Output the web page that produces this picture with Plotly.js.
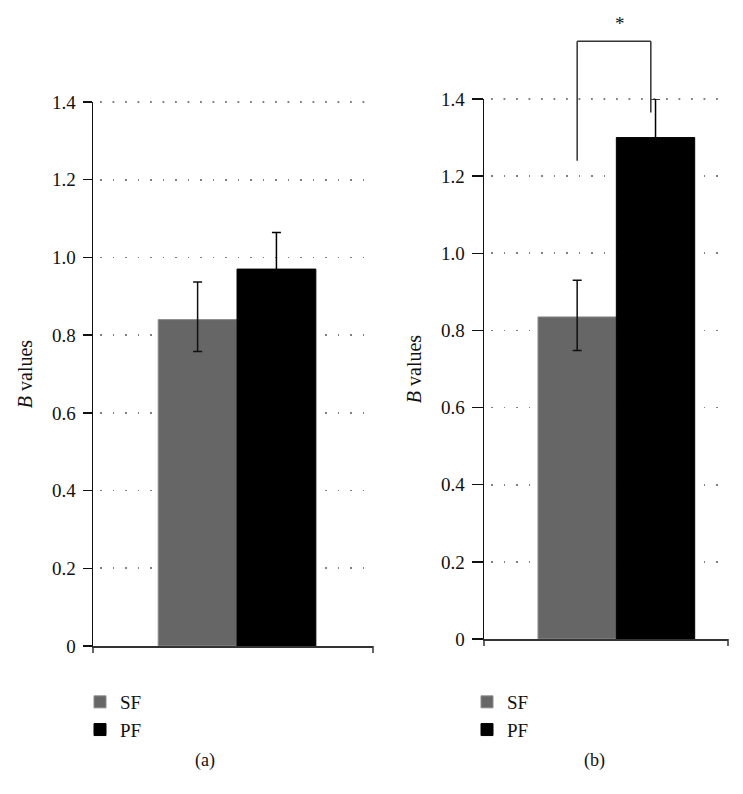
<!DOCTYPE html>
<html>
<head>
<meta charset="utf-8">
<script src="https://cdn.plot.ly/plotly-3.0.1.min.js"></script>
<style>html,body{margin:0;padding:0;background:#fff}#chart{width:743px;height:794px}</style>
</head>
<body>
<div id="chart"></div>
<script>
// ---- data ----
const categories = ['SF', 'PF'];
const valuesA = [0.84, 0.97];
const errPlusA = [0.097, 0.094];
const errMinusA = [0.082, 0.094];
const valuesB = [0.835, 1.30];
const errPlusB = [0.095, 0.10];
const errMinusB = [0.087, 0.10];
const tickVals = [0, 0.2, 0.4, 0.6, 0.8, 1.0, 1.2, 1.4];
const tickText = ['0', '0.2', '0.4', '0.6', '0.8', '1.0', '1.2', '1.4'];
const panelLabels = ['(a)', '(b)'];
const sigLabel = '*';
// significance bracket (panel b): x in category index units, y in B units
const bracketX = [0, 0, 0.94, 0.94];
const bracketY = [1.24, 1.55, 1.55, 1.365];

// ---- style ----
const W = 743, H = 794;
const FONT = 'Liberation Serif, Times New Roman, serif';
const colors = ['#666666', '#000000'];
const outline = ['#8c8c8c', '#000000'];
const errColors = ['#111111', '#000000'];
const GRID_DASH = '0px,7px,1.8px,3.7px';
const GRID_COLOR = '#808080';

const domA = {x: [93 / W, 373 / W], y: [1 - 646 / H, 1 - 102 / H]};
const domB = {x: [484 / W, 728 / W], y: [1 - 639 / H, 1 - 99 / H]};
const rangeA = [-1.327, 2.225];
const rangeB = [-1.189, 1.925];

function barTraces(vals, plus, minus, xa, ya, leg) {
  return categories.map((c, i) => ({
    type: 'bar', x: [c], y: [vals[i]], name: c,
    xaxis: xa, yaxis: ya, legend: leg, legendgroup: leg + c,
    marker: {color: colors[i], line: {color: outline[i], width: 1}},
    error_y: {type: 'data', symmetric: false, array: [plus[i]], arrayminus: [minus[i]],
              color: errColors[i], thickness: 1.5, width: 4.5},
    hoverinfo: 'skip'
  }));
}

const traces = [
  ...barTraces(valuesA, errPlusA, errMinusA, 'x', 'y', 'legend'),
  ...barTraces(valuesB, errPlusB, errMinusB, 'x2', 'y2', 'legend2'),
  {type: 'scatter', mode: 'lines', x: [0], y: [0], xaxis: 'x3', yaxis: 'y3', showlegend: false,
   hoverinfo: 'skip', line: {color: 'rgba(0,0,0,0)'}}
];

function yAxis(dom, anchor, ticklen) {
  return {
    domain: dom, anchor: anchor, range: [0, 1.4], fixedrange: true,
    tickmode: 'array', tickvals: tickVals, ticktext: tickText,
    ticks: 'outside', ticklen: ticklen, tickwidth: 1.5, tickcolor: '#111',
    ticklabelstandoff: 3,
    showline: true, linecolor: '#111', linewidth: 1.5,
    showgrid: true, gridcolor: GRID_COLOR, gridwidth: 1.8, griddash: GRID_DASH,
    zeroline: false,
    tickfont: {family: FONT, size: 19, color: '#111'},
    title: {text: '<i>B</i> values', font: {family: FONT, size: 20, color: '#111'}, standoff: 14}
  };
}
function xAxis(dom, anchor, range) {
  return {
    domain: dom, anchor: anchor, type: 'category', range: range, fixedrange: true,
    showticklabels: false, ticks: '', showgrid: false, zeroline: false,
    showline: true, linecolor: '#333', linewidth: 1.5
  };
}

// invisible axes for the bracket above panel b (same scale as yaxis2, taller domain)
const y3top = 1;
const y3range = [0, 1.4 * (y3top - domB.y[0]) / (domB.y[1] - domB.y[0])];

const tickShapes = [domA, domB].flatMap(d => [d.x[0], d.x[1]].map(px => ({
  type: 'line', xref: 'paper', yref: 'paper', x0: px, x1: px,
  y0: d.y[0], y1: d.y[0] - 7 / H, line: {color: '#333', width: 1.5}
})));
// dotted grid line at the top of each panel (Plotly omits grid lines at the range end)
const topGrid = [domA, domB].map(d => ({
  type: 'line', xref: 'paper', yref: 'paper', x0: d.x[0], x1: d.x[1], y0: d.y[1], y1: d.y[1],
  layer: 'below', line: {color: GRID_COLOR, width: 1.8, dash: GRID_DASH}
}));

const bracketShapes = [0, 1, 2].map(i => ({
  type: 'line', xref: 'x3', yref: 'y3',
  x0: bracketX[i], x1: bracketX[i + 1], y0: bracketY[i], y1: bracketY[i + 1],
  line: {color: '#333', width: 1.5}
}));

const legendStyle = (x) => ({
  x: x, xanchor: 'left', y: 1 - 683 / H, yanchor: 'top', orientation: 'v',
  bgcolor: 'rgba(0,0,0,0)', font: {family: FONT, size: 19, color: '#111'},
  tracegroupgap: 1, traceorder: 'normal'
});

const layout = {
  width: W, height: H, margin: {l: 0, r: 0, t: 0, b: 0},
  paper_bgcolor: '#fff', plot_bgcolor: 'rgba(0,0,0,0)',
  barmode: 'overlay', bargap: 0,
  font: {family: FONT, color: '#111'},
  xaxis: xAxis(domA.x, 'y', rangeA),
  yaxis: yAxis(domA.y, 'x', 9),
  xaxis2: xAxis(domB.x, 'y2', rangeB),
  yaxis2: yAxis(domB.y, 'x2', 11),
  xaxis3: {domain: domB.x, anchor: 'y3', range: rangeB, visible: false, fixedrange: true},
  yaxis3: {domain: [domB.y[0], y3top], anchor: 'x3', range: y3range, visible: false, fixedrange: true},
  showlegend: true,
  legend: legendStyle(80 / W),
  legend2: legendStyle(467 / W),
  shapes: [...topGrid, ...tickShapes, ...bracketShapes],
  annotations: [
    {xref: 'paper', yref: 'paper', x: 193 / W, y: 1 - 773 / H, text: panelLabels[0], showarrow: false,
     font: {family: FONT, size: 18, color: '#111'}},
    {xref: 'paper', yref: 'paper', x: 607 / W, y: 1 - 773 / H, text: panelLabels[1], showarrow: false,
     font: {family: FONT, size: 18, color: '#111'}},
    {xref: 'x3', yref: 'y3', x: (bracketX[0] + bracketX[2]) / 2, y: bracketY[1], yanchor: 'bottom',
     xshift: 6, yshift: 5, text: sigLabel, showarrow: false, font: {family: FONT, size: 19, color: '#111'}}
  ]
};

Plotly.newPlot('chart', traces, layout, {displayModeBar: false, staticPlot: true});
</script>
</body>
</html>
